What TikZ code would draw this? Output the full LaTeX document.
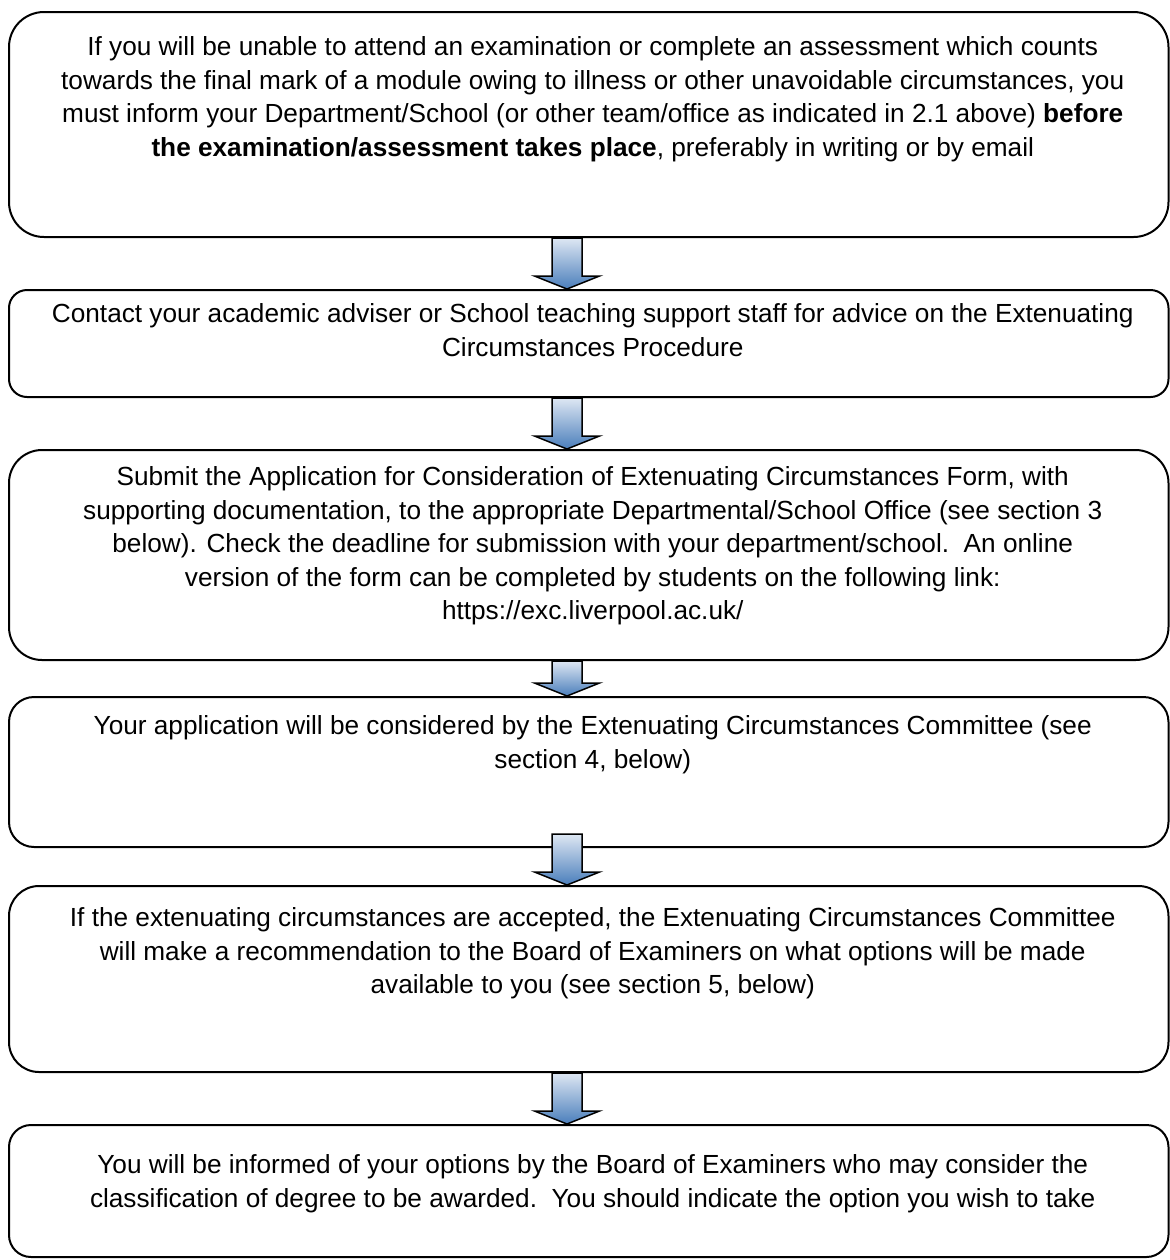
\documentclass[tikz,border=0pt]{standalone}
\usepackage{fontspec}
\setmainfont{Liberation Sans}
\usetikzlibrary{calc}
\definecolor{azulclaro}{RGB}{222,231,243}
\definecolor{azulescuro}{RGB}{74,126,187}
% seta larga entre duas caixas (opcional: recuo do inicio)
\newcommand{\seta}[3][0pt]{%
  \path[seta] let \p1=(#2.south), \p2=(#3.north), \p3=(eixo) in
    (\x3-7.5pt,\y1+#1) -- (\x3+7.5pt,\y1+#1) -- (\x3+7.5pt,\y2+6.5pt)
    -- (\x3+16.25pt,\y2+6.5pt) -- (\x3,\y2) -- (\x3-16.25pt,\y2+6.5pt)
    -- (\x3-7.5pt,\y2+6.5pt) -- cycle;}
\begin{document}
\begin{tikzpicture}[x=0.5pt, y=-0.5pt]
\tikzset{
    caixa/.style={rectangle, draw=black, line width=1pt, inner sep=0pt,
                  minimum width=579.75pt},
    texto/.style={anchor=north, align=center, inner sep=0pt, xshift=2pt,
                  font=\fontsize{13.1}{16.75}\selectfont},
    seta/.style={draw=black, line width=0.75pt,
                 top color=azulclaro, bottom color=azulescuro}
}
\useasboundingbox (0,0) rectangle (1170,1260);
\coordinate (eixo) at (567,0);
% Caixas
\node[caixa, minimum height=112.5pt, rounded corners=17.5pt] (c1) at (588.75,124.5) {};
\node[caixa, minimum height=53.5pt,  rounded corners=9pt]    (c2) at (588.75,343.5) {};
\node[caixa, minimum height=105pt,   rounded corners=16.5pt] (c3) at (588.75,555)   {};
\node[caixa, minimum height=75pt,    rounded corners=12.5pt] (c4) at (588.75,772)   {};
\node[caixa, minimum height=93pt,    rounded corners=15pt]   (c5) at (588.75,979)   {};
\node[caixa, minimum height=66pt,    rounded corners=11pt]   (c6) at (588.75,1191)  {};
% Textos
\node[texto] (t1) at ([yshift=-12.75pt]c1.north) {If you will be unable to attend an examination or complete an assessment which counts\\
  towards the final mark of a module owing to illness or other unavoidable circumstances, you\\
  must inform your Department/School (or other team/office as indicated in 2.1 above) \textbf{before}\\
  \textbf{the examination/assessment takes place}, preferably in writing or by email};
\node[texto] (t2) at ([yshift=-7.25pt]c2.north) {Contact your academic adviser or School teaching support staff for advice on the Extenuating\\
  Circumstances Procedure};
\node[texto] (t3) at ([yshift=-8.75pt]c3.north) {Submit the Application for Consideration of Extenuating Circumstances Form, with\\
  supporting documentation, to the appropriate Departmental/School Office (see section 3\\
  below). Check the deadline for submission with your department/school.\ \ An online\\
  version of the form can be completed by students on the following link:\\
  https://exc.liverpool.ac.uk/};
\node[texto] (t4) at ([yshift=-9.75pt]c4.north) {Your application will be considered by the Extenuating Circumstances Committee (see\\
  section 4, below)};
\node[texto] (t5) at ([yshift=-11.25pt]c5.north) {If the extenuating circumstances are accepted, the Extenuating Circumstances Committee\\
  will make a recommendation to the Board of Examiners on what options will be made\\
  available to you (see section 5, below)};
\node[texto] (t6) at ([yshift=-15.25pt]c6.north) {You will be informed of your options by the Board of Examiners who may consider the\\
  classification of degree to be awarded.\ \ You should indicate the option you wish to take};
% Setas
\seta{c1}{c2}
\seta{c2}{c3}
\seta{c3}{c4}
\seta[7pt]{c4}{c5}
\seta{c5}{c6}
\end{tikzpicture}
\end{document}
